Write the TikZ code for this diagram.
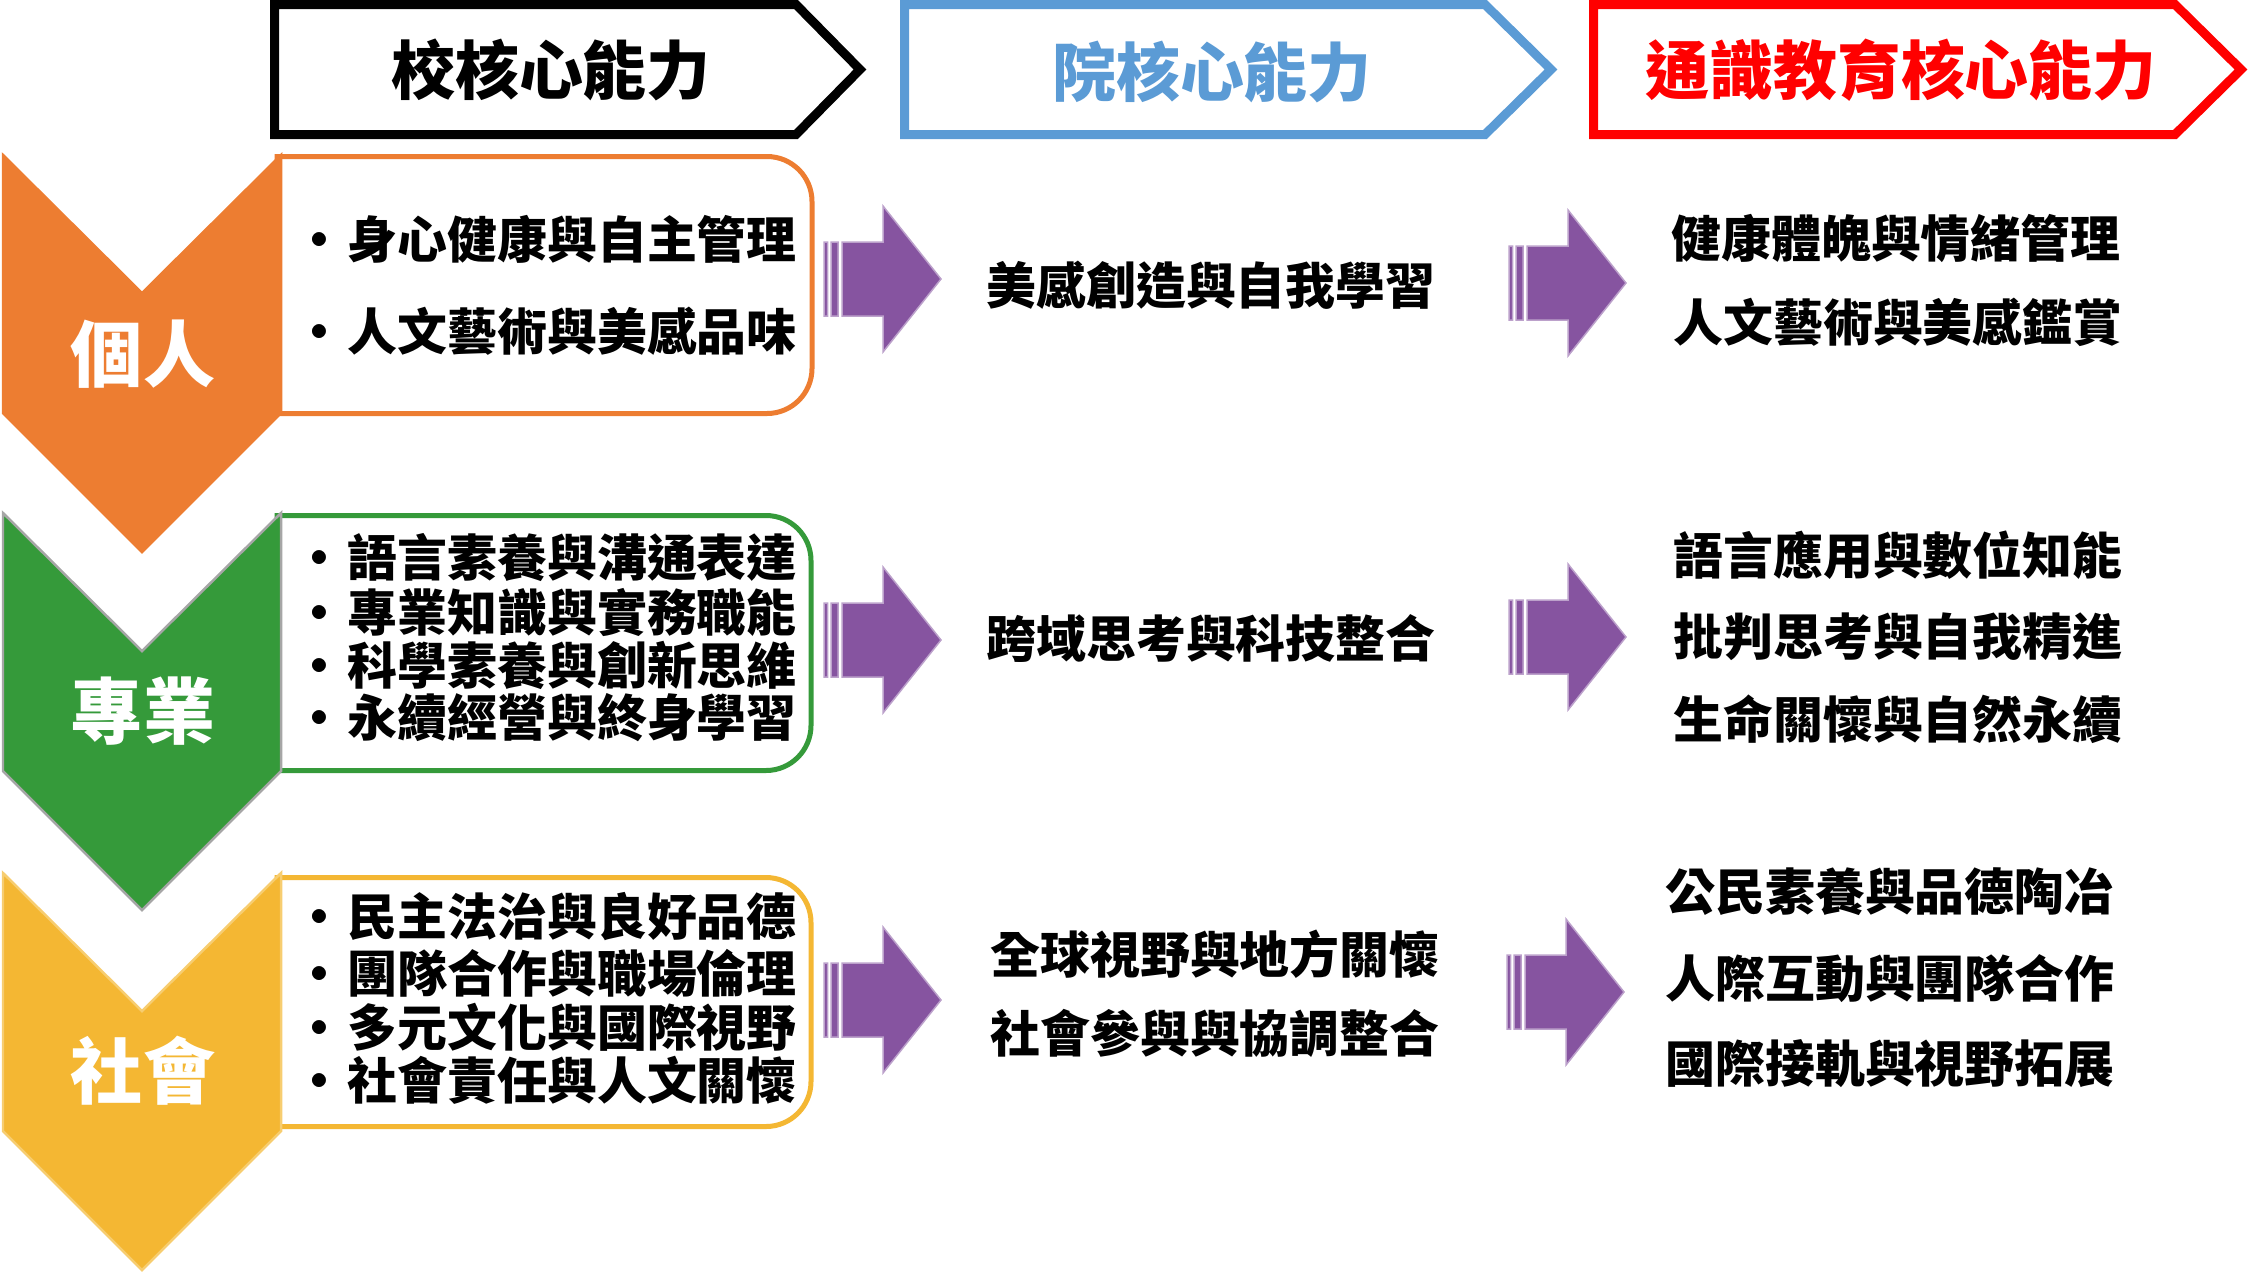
\documentclass[tikz,border=0pt]{standalone}
\usepackage{fontspec}
\setmainfont{Noto Sans CJK TC}
\definecolor{roworange}{RGB}{237,125,49}
\definecolor{rowgreen}{RGB}{53,154,58}
\definecolor{rowyellow}{RGB}{244,183,51}
\definecolor{headblue}{RGB}{91,155,213}
\definecolor{arrowpurple}{RGB}{134,84,160}
\begin{document}
\begin{tikzpicture}[x=0.1mm,y=-0.1mm]
	\tikzset{
		head/.style={line width=0.9mm, fill=white},
		headtext/.style={font=\bfseries\fontsize{18.2pt}{20pt}\selectfont, inner sep=0pt},
		chev/.style={line width=0.25mm},
		chevtext/.style={text=white, font=\bfseries\fontsize{20.5pt}{22pt}\selectfont, inner sep=0pt},
		skillbox/.style={line width=0.5mm, fill=white},
		item/.style={anchor=west, font=\bfseries\fontsize{14.2pt}{16pt}\selectfont, inner sep=0pt},
		txt/.style={font=\bfseries\fontsize{14.2pt}{16pt}\selectfont, inner sep=0pt},
		parrow/.style={fill=arrowpurple, draw=arrowpurple!55, line width=0.15mm}
	}
	\useasboundingbox (0,0) rectangle (2249,1271);
	% headers
	\draw[head, draw=black]     (274.5,4.5) -- (796,4.5) -- (860,69.5) -- (796,134.5) -- (274.5,134.5) -- cycle;
	\draw[head, draw=headblue]  (904.5,4.5) -- (1485,4.5) -- (1551,69.5) -- (1485,134.5) -- (904.5,134.5) -- cycle;
	\draw[head, draw=red]       (1593.5,4.5) -- (2175,4.5) -- (2241,69.5) -- (2175,134.5) -- (1593.5,134.5) -- cycle;
	\node[headtext] (school) at (551,70) {校核心能力};
	\node[headtext, text=headblue] (college) at (1212,72) {院核心能力};
	\node[headtext, text=red] (gened) at (1901,70) {通識教育核心能力};
	% boxes
	\draw[skillbox, draw=roworange] (277,413.5) -- (277,156.5) -- (767,156.5) arc[start angle=-90, end angle=0, radius=45] -- (812,368.5) arc[start angle=0, end angle=90, radius=45] -- cycle;
	\draw[skillbox, draw=rowgreen]  (277,770.5) -- (277,515.5) -- (766,515.5) arc[start angle=-90, end angle=0, radius=45] -- (811,725.5) arc[start angle=0, end angle=90, radius=45] -- cycle;
	\draw[skillbox, draw=rowyellow] (277,1126.5) -- (277,877.5) -- (766,877.5) arc[start angle=-90, end angle=0, radius=45] -- (811,1081.5) arc[start angle=0, end angle=90, radius=45] -- cycle;
	% chevrons
	\filldraw[chev, fill=roworange, draw=roworange] (3,155) -- (142,293) -- (281,155) -- (281,413) -- (142,552) -- (3,413) -- cycle;
	\filldraw[chev, fill=rowgreen, draw=black!35]    (3,513) -- (142,651) -- (281,513) -- (281,771) -- (142,910) -- (3,771) -- cycle;
	\filldraw[chev, fill=rowyellow, draw=rowyellow!70] (3,873) -- (142,1011) -- (281,873) -- (281,1131) -- (142,1270) -- (3,1131) -- cycle;
	\node[chevtext] (personal) at (143,354) {個人};
	\node[chevtext] (profession) at (143,711) {專業};
	\node[chevtext] (society) at (143,1071) {社會};
	% school items
	\node[item] (p1) at (294,239) {•\hspace{0.3mm}身心健康與自主管理};
	\node[item] (p2) at (294,331) {•\hspace{0.3mm}人文藝術與美感品味};
	\node[item] (q1) at (294,558) {•\hspace{0.3mm}語言素養與溝通表達};
	\node[item] (q2) at (294,612) {•\hspace{0.3mm}專業知識與實務職能};
	\node[item] (q3) at (294,665) {•\hspace{0.3mm}科學素養與創新思維};
	\node[item] (q4) at (294,718) {•\hspace{0.3mm}永續經營與終身學習};
	\node[item] (s1) at (294,917) {•\hspace{0.3mm}民主法治與良好品德};
	\node[item] (s2) at (294,973) {•\hspace{0.3mm}團隊合作與職場倫理};
	\node[item] (s3) at (294,1027) {•\hspace{0.3mm}多元文化與國際視野};
	\node[item] (s4) at (294,1080) {•\hspace{0.3mm}社會責任與人文關懷};
	% purple arrows
	\fill[parrow, shift={(824,279)}]  (0,-37) rectangle (3.5,37) (7,-37) rectangle (14,37) (18,-37) -- (59,-37) -- (59,-73) -- (117,0) -- (59,73) -- (59,37) -- (18,37) -- cycle;
	\fill[parrow, shift={(1509,283)}] (0,-37) rectangle (3.5,37) (7,-37) rectangle (14,37) (18,-37) -- (59,-37) -- (59,-73) -- (117,0) -- (59,73) -- (59,37) -- (18,37) -- cycle;
	\fill[parrow, shift={(824,640)}]  (0,-37) rectangle (3.5,37) (7,-37) rectangle (14,37) (18,-37) -- (59,-37) -- (59,-73) -- (117,0) -- (59,73) -- (59,37) -- (18,37) -- cycle;
	\fill[parrow, shift={(1509,637)}] (0,-37) rectangle (3.5,37) (7,-37) rectangle (14,37) (18,-37) -- (59,-37) -- (59,-73) -- (117,0) -- (59,73) -- (59,37) -- (18,37) -- cycle;
	\fill[parrow, shift={(824,1000)}] (0,-37) rectangle (3.5,37) (7,-37) rectangle (14,37) (18,-37) -- (59,-37) -- (59,-73) -- (117,0) -- (59,73) -- (59,37) -- (18,37) -- cycle;
	\fill[parrow, shift={(1507,992)}] (0,-37) rectangle (3.5,37) (7,-37) rectangle (14,37) (18,-37) -- (59,-37) -- (59,-73) -- (117,0) -- (59,73) -- (59,37) -- (18,37) -- cycle;
	% college
	\node[txt] (c1) at (1211,285) {美感創造與自我學習};
	\node[txt] (c2) at (1211,639) {跨域思考與科技整合};
	\node[txt] (c3) at (1215,954) {全球視野與地方關懷};
	\node[txt] (c4) at (1215,1033) {社會參與與協調整合};
	% general education
	\node[txt] (g1) at (1896,238) {健康體魄與情緒管理};
	\node[txt] (g2) at (1898,322) {人文藝術與美感鑑賞};
	\node[txt] (g3) at (1898,555) {語言應用與數位知能};
	\node[txt] (g4) at (1898,637) {批判思考與自我精進};
	\node[txt] (g5) at (1898,719) {生命關懷與自然永續};
	\node[txt] (g6) at (1890,892) {公民素養與品德陶冶};
	\node[txt] (g7) at (1890,979) {人際互動與團隊合作};
	\node[txt] (g8) at (1890,1064) {國際接軌與視野拓展};
\end{tikzpicture}
\end{document}
